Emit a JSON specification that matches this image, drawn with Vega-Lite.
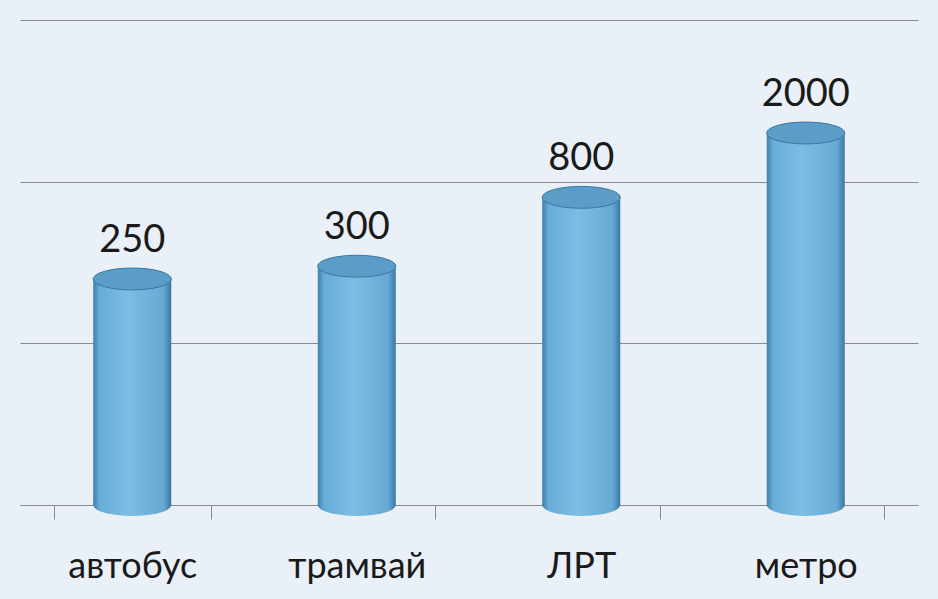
{
  "$schema": "https://vega.github.io/schema/vega-lite/v6.json",
  "width": 938,
  "height": 599,
  "autosize": {"type": "fit", "contains": "padding"},
  "padding": {"left": 20, "right": 20, "top": 20, "bottom": 15},
  "background": "#e9f0f7",
  "config": {
    "view": {"stroke": null},
    "font": "Lato"
  },
  "data": {
    "values": [
      {"type": "автобус", "value": 250},
      {"type": "трамвай", "value": 300},
      {"type": "ЛРТ", "value": 800},
      {"type": "метро", "value": 2000}
    ]
  },
  "encoding": {
    "x": {
      "field": "type",
      "type": "nominal",
      "sort": null,
      "title": null,
      "scale": {"paddingInner": 0.3, "paddingOuter": 0.15},
      "axis": {
        "labelAngle": 0,
        "labelFontSize": 36,
        "labelColor": "#1a1a1a",
        "labelPadding": 30,
        "domainColor": "#8a8a8a",
        "tickColor": "#8a8a8a",
        "ticks": true,
        "tickBand": "extent",
        "tickSize": 14
      }
    }
  },
  "layer": [
    {
      "mark": {
        "type": "bar",
        "size": 78,
        "color": {
          "gradient": "linear",
          "x1": 0, "x2": 1, "y1": 0, "y2": 0,
          "stops": [
            {"offset": 0, "color": "#3f7eab"},
            {"offset": 0.08, "color": "#68acd7"},
            {"offset": 0.45, "color": "#7bbde3"},
            {"offset": 0.9, "color": "#66a9d4"},
            {"offset": 1, "color": "#3a76a2"}
          ]
        }
      },
      "encoding": {
        "y": {
          "field": "value",
          "type": "quantitative",
          "scale": {"type": "log", "domain": [10, 10000]},
          "title": null,
          "axis": {
            "values": [10, 100, 1000, 10000],
            "labels": false,
            "ticks": false,
            "domain": false,
            "grid": true,
            "gridColor": "#8a8a8a",
            "gridWidth": 1.2
          }
        },
        "y2": {"datum": 10}
      }
    },
    {
      "mark": {
        "type": "point",
        "filled": true,
        "shape": "M -1 0 A 1 0.28 0 1 0 1 0 A 1 0.28 0 1 0 -1 0 Z",
        "size": 6084,
        "opacity": 1,
        "color": {
          "gradient": "linear",
          "x1": 0, "x2": 1, "y1": 0, "y2": 0,
          "stops": [
            {"offset": 0, "color": "#3f7eab"},
            {"offset": 0.08, "color": "#68acd7"},
            {"offset": 0.45, "color": "#7bbde3"},
            {"offset": 0.9, "color": "#66a9d4"},
            {"offset": 1, "color": "#3a76a2"}
          ]
        }
      },
      "encoding": {
        "y": {"datum": 10, "type": "quantitative", "scale": {"type": "log", "domain": [10, 10000]}}
      }
    },
    {
      "mark": {
        "type": "point",
        "filled": true,
        "shape": "M -1 0 A 1 0.28 0 1 0 1 0 A 1 0.28 0 1 0 -1 0 Z",
        "size": 6084,
        "opacity": 1,
        "color": "#5c9dc8",
        "stroke": "#3a76a2",
        "strokeWidth": 1
      },
      "encoding": {
        "y": {"field": "value", "type": "quantitative", "scale": {"type": "log", "domain": [10, 10000]}}
      }
    },
    {
      "mark": {
        "type": "text",
        "fontSize": 38,
        "color": "#1a1a1a",
        "dy": -38
      },
      "encoding": {
        "y": {"field": "value", "type": "quantitative", "scale": {"type": "log", "domain": [10, 10000]}},
        "text": {"field": "value", "type": "quantitative", "format": "d"}
      }
    }
  ]
}
